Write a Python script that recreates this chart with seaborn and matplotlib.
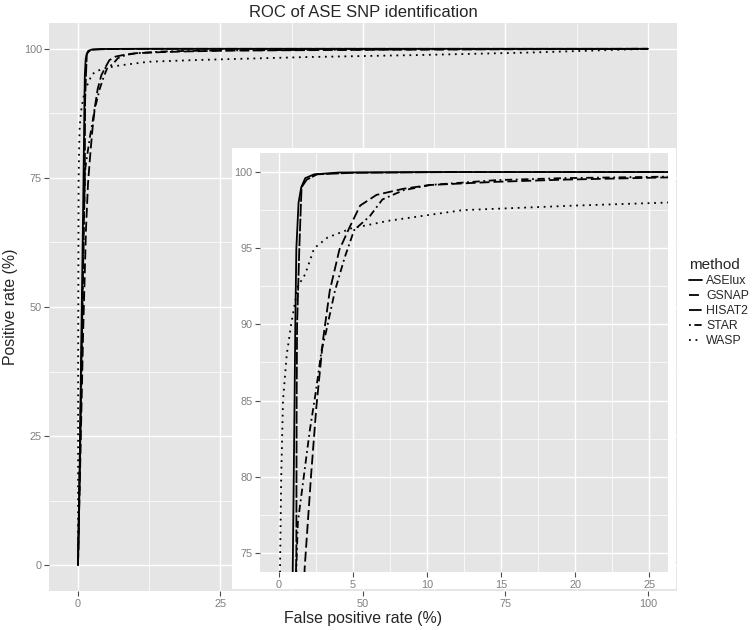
import matplotlib
matplotlib.use('Agg')
import matplotlib.pyplot as plt
import matplotlib.ticker as mticker
from matplotlib.patches import Rectangle
import pandas as pd
import seaborn as sns

# ROC points (false positive rate %, positive rate %)
methods = ['ASElux', 'GSNAP', 'HISAT2', 'STAR', 'WASP']

aselux_fpr = [0, 0.3, 0.6, 0.85, 0.97, 1.08, 1.13, 1.2, 1.35, 1.53, 1.8, 2.4, 4.1, 10, 25, 50, 100]
aselux_tpr = [0, 20, 45, 65, 75, 85, 90, 95, 98, 99, 99.6, 99.85, 99.97, 100, 100, 100, 100]

gsnap_fpr = [0, 0.4, 0.9, 1.4, 1.76, 2.2, 2.55, 3.0, 3.45, 4.1, 4.8, 5.5, 6.6, 7.5, 8.4, 10.2, 14.7, 19.2, 26.3, 50, 75, 100]
gsnap_tpr = [0, 20, 45, 65, 74, 80.2, 84.6, 89, 92.2, 94.9, 96.4, 97.8, 98.5, 98.7, 98.9, 99.15, 99.36, 99.5, 99.65, 99.8, 99.9, 100]

hisat2_fpr = [0, 0.35, 0.7, 1.0, 1.2, 1.22, 1.25, 1.4, 1.55, 1.9, 2.6, 5, 12, 25, 50, 100]
hisat2_tpr = [0, 20, 45, 65, 75, 85, 90, 95, 99, 99.5, 99.85, 99.95, 100, 100, 100, 100]

star_fpr = [0, 0.3, 0.7, 1.0, 1.2, 1.3, 1.7, 2.1, 2.5, 2.9, 3.2, 3.8, 4.46, 5.1, 6.15, 7.0, 8.4, 10.2, 14.7, 19.2, 26.3, 50, 75, 100]
star_tpr = [0, 20, 45, 65, 74, 77, 80, 83, 85.5, 88.3, 89.5, 92.2, 94.4, 96.2, 97.1, 98.2, 98.8, 99.15, 99.47, 99.6, 99.7, 99.85, 99.95, 100]

wasp_fpr = [0, 0.03, 0.1, 0.18, 0.3, 0.55, 0.85, 1.3, 1.8, 2.4, 3.3, 4.9, 7.4, 12.4, 20, 26.3, 40, 60, 80, 100]
wasp_tpr = [0, 40, 74, 80, 85, 88, 90, 92.5, 93.3, 95.0, 95.7, 96.3, 96.8, 97.5, 97.8, 98.0, 98.4, 98.8, 99.3, 100]

main_ticks = [0, 25, 50, 75, 100]
inset_xticks = [0, 5, 10, 15, 20, 25]
inset_yticks = [75, 80, 85, 90, 95, 100]

curves = {
    'ASElux': (aselux_fpr, aselux_tpr),
    'GSNAP': (gsnap_fpr, gsnap_tpr),
    'HISAT2': (hisat2_fpr, hisat2_tpr),
    'STAR': (star_fpr, star_tpr),
    'WASP': (wasp_fpr, wasp_tpr),
}
df = pd.concat([pd.DataFrame({'fpr': f, 'tpr': t, 'method': m})
                for m, (f, t) in curves.items()], ignore_index=True)

dash_map = {'ASElux': '', 'GSNAP': (5.5, 2.2), 'HISAT2': (7, 1.2),
            'STAR': (1, 2, 4, 2), 'WASP': (1, 2.6)}

sns.set_theme(style='darkgrid', rc={
    'axes.facecolor': '#E5E5E5',
    'grid.color': 'white',
    'xtick.major.size': 3.5, 'ytick.major.size': 3.5,
    'xtick.major.width': 0.8, 'ytick.major.width': 0.8,
    'xtick.color': '#4D4D4D', 'ytick.color': '#4D4D4D',
    'xtick.labelcolor': '#7F7F7F', 'ytick.labelcolor': '#7F7F7F',
    'xtick.major.pad': 2, 'ytick.major.pad': 2,
})
plt.rcParams['font.family'] = ['Liberation Sans', 'DejaVu Sans']

fig = plt.figure(figsize=(7.52, 6.3), dpi=100)


def style_axes(a, xt, yt, minor):
    a.set_xticks(xt)
    a.set_yticks(yt)
    a.xaxis.set_minor_locator(mticker.MultipleLocator(minor))
    a.yaxis.set_minor_locator(mticker.MultipleLocator(minor))
    a.grid(which='major', color='white', linewidth=1.0)
    a.grid(which='minor', color='white', linewidth=0.5)
    a.tick_params(which='minor', length=0)
    a.tick_params(which='major', labelsize=7.8, bottom=True, left=True)
    for s in a.spines.values():
        s.set_visible(False)


# main panel
ax = fig.add_axes([49.5 / 752, 39 / 630, 627 / 752, 568 / 630])
ax.set_zorder(1)
sns.lineplot(data=df, x='fpr', y='tpr', style='method', style_order=methods,
             dashes=dash_map, color='black', linewidth=1.3,
             estimator=None, sort=False, ax=ax)
ax.set_xlim(-5, 105)
ax.set_ylim(-5, 105)
style_axes(ax, main_ticks, main_ticks, 12.5)
ax.set_xlabel('False positive rate (%)', fontsize=11.4, labelpad=2)
ax.set_ylabel('Positive rate (%)', fontsize=11.4, labelpad=4)
ax.set_title('ROC of ASE SNP identification', fontsize=12, pad=4)

handles, labels = ax.get_legend_handles_labels()
for h in handles:
    h.set_linewidth(1.3)
ax.legend(handles, labels, title='method', loc='upper left',
          bbox_to_anchor=(689 / 752, 1 - 258 / 630), bbox_transform=fig.transFigure,
          frameon=False, fontsize=8.8, title_fontsize=11, handlelength=1.1,
          handletextpad=0.3, labelspacing=0.25, borderaxespad=0, borderpad=0,
          alignment='left')

# white box behind the inset
fig.add_artist(Rectangle((232 / 752, 41 / 630), 444 / 752, 441 / 630,
                         transform=fig.transFigure, facecolor='white',
                         edgecolor='none', zorder=2))

# inset zoom
ax2 = fig.add_axes([260 / 752, 58 / 630, 408 / 752, 419 / 630])
ax2.set_zorder(3)
sns.lineplot(data=df, x='fpr', y='tpr', style='method', style_order=methods,
             dashes=dash_map, color='black', linewidth=1.3,
             estimator=None, sort=False, legend=False, ax=ax2)
ax2.set_xlim(-1.25, 26.25)
ax2.set_ylim(73.75, 101.25)
style_axes(ax2, inset_xticks, inset_yticks, 2.5)
ax2.set_xlabel('')
ax2.set_ylabel('')

fig.savefig('out.png', dpi=100)
